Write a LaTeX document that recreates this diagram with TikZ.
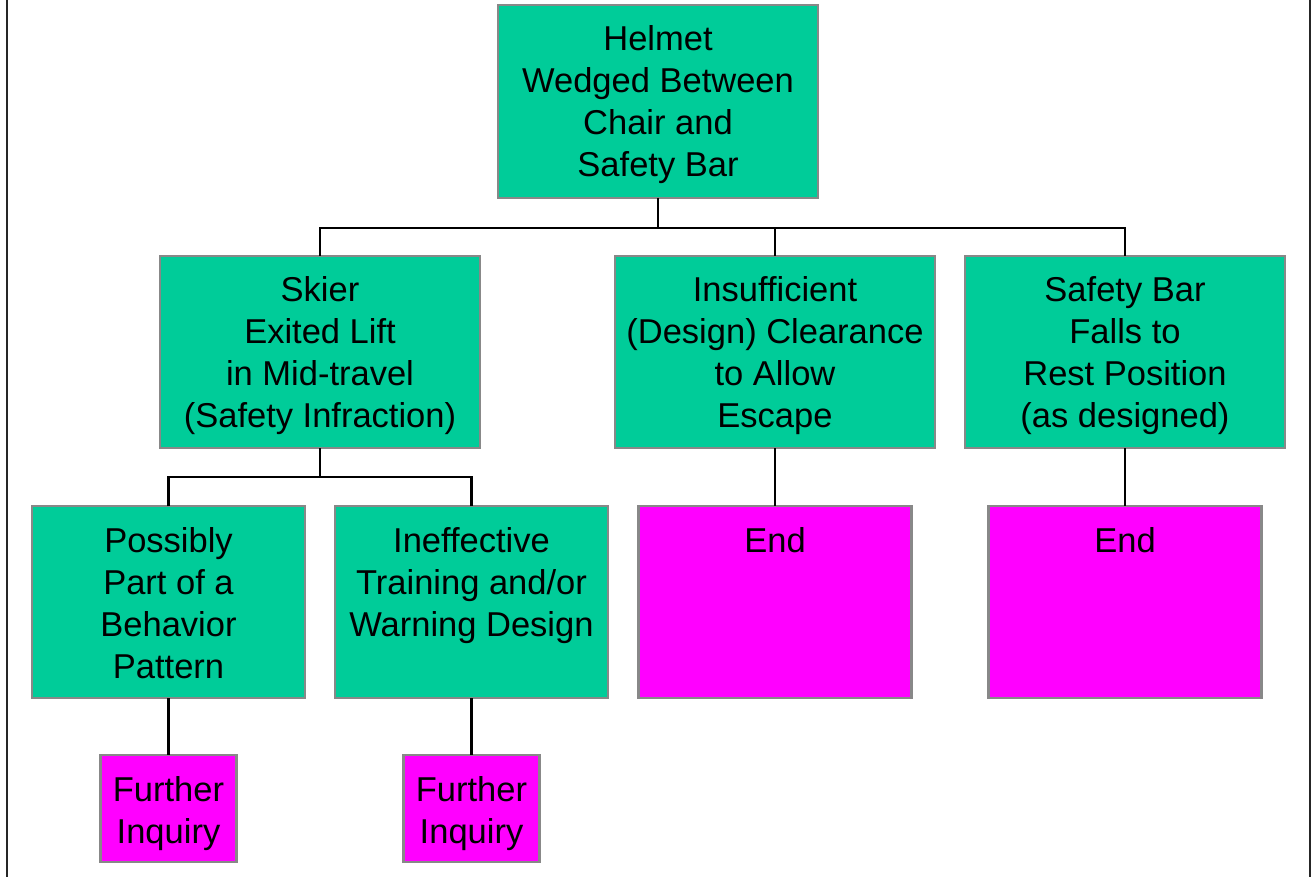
\documentclass[tikz,border=0pt]{standalone}
\usepackage{fontspec}
\setmainfont{Liberation Sans}
\definecolor{grn}{RGB}{0,204,153}
\definecolor{mag}{RGB}{255,0,255}
\definecolor{edgegray}{RGB}{136,136,136}
\newcommand{\bxtext}[3]{\parbox[c][#2pt][t]{#1pt}{\centering\rule{0pt}{46pt}#3}}
\begin{document}
\begin{tikzpicture}[x=1pt,y=-1pt,
  box/.style={draw=edgegray, line width=2.2pt, inner sep=0pt, outer sep=0pt, anchor=north west,
    font=\fontsize{34.5}{42}\selectfont},
  gbox/.style={box, fill=grn},
  mbox/.style={box, fill=mag},
  conn/.style={line width=2.5pt, black},
  frame/.style={line width=2.5pt, black!85}]
\useasboundingbox (0,0) rectangle (1312,877);
\draw[frame] (7,0) -- (7,877);
\draw[frame] (1310,0) -- (1310,877);

\node[gbox] (top) at (498,5) {\bxtext{320}{193}{Helmet\\Wedged Between\\Chair and\\Safety Bar}};
\node[gbox] (skier) at (160,256) {\bxtext{320}{192}{Skier\\Exited Lift\\in Mid-travel\\(Safety Infraction)}};
\node[gbox] (insuff) at (615,256) {\bxtext{320}{192}{Insufficient\\(Design) Clearance\\to Allow\\Escape}};
\node[gbox] (bar) at (965,256) {\bxtext{320}{192}{Safety Bar\\Falls to\\Rest Position\\(as designed)}};
\node[gbox] (poss) at (32,506) {\bxtext{273}{192}{Possibly\\Part of a\\Behavior\\Pattern}};
\node[gbox] (ineff) at (335,506) {\bxtext{273}{192}{Ineffective\\Training and/or\\Warning Design}};
\node[mbox] (end1) at (638.5,506) {\bxtext{273}{192}{End}};
\node[mbox] (end2) at (988.5,506) {\bxtext{273}{192}{End}};
\node[mbox] (fur1) at (100.5,755) {\bxtext{136}{107}{Further\\Inquiry}};
\node[mbox] (fur2) at (403.5,755) {\bxtext{136}{107}{Further\\Inquiry}};

\coordinate (bus1) at (658,228);
\coordinate (bus2) at (320,477);
\draw[conn] (top.south) -- (bus1);
\draw[conn] (skier.north) |- (bus1);
\draw[conn] (insuff.north) |- (bus1);
\draw[conn] (bar.north) |- (bus1);
\draw[conn] (skier.south) -- (bus2);
\draw[conn] (poss.north) |- (bus2);
\draw[conn] (ineff.north) |- (bus2);
\draw[conn] (insuff.south) -- (end1.north);
\draw[conn] (bar.south) -- (end2.north);
\draw[conn] (poss.south) -- (fur1.north);
\draw[conn] (ineff.south) -- (fur2.north);
\end{tikzpicture}
\end{document}
